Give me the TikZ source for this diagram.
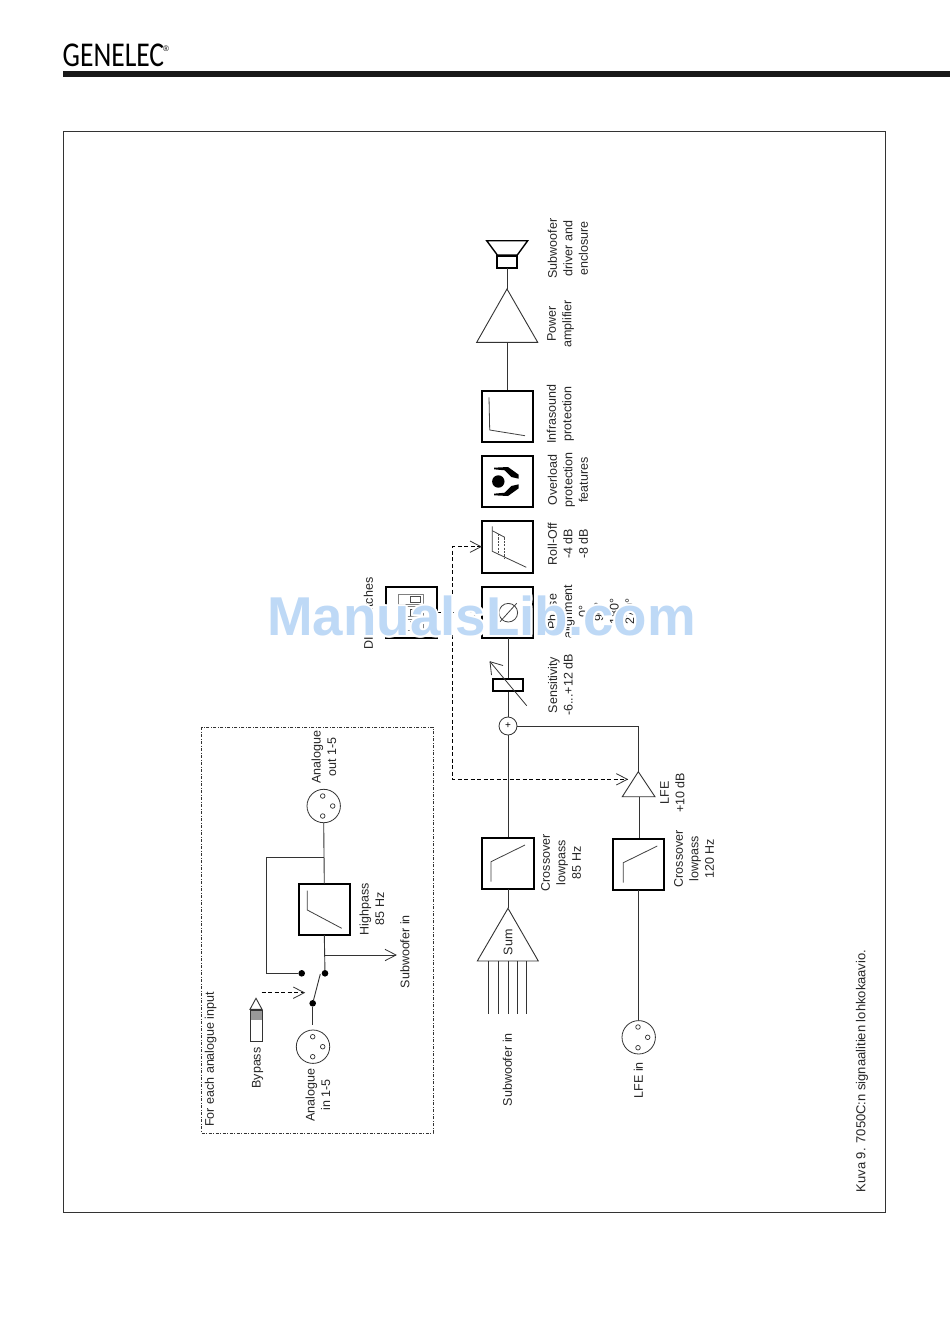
\documentclass[tikz,border=0pt]{standalone}
\usepackage{fontspec}
\setmainfont{Liberation Sans}
\newfontfamily\logofont{Carlito}
\definecolor{wmblue}{RGB}{190,217,246}
\tikzset{
 x=1pt,y=-1pt,
 thinline/.style={draw=black!80,line width=0.9pt},
 box/.style={draw=black,line width=2.2pt},
 curve/.style={draw=black!75,line width=0.8pt},
 lab/.style={rotate=90,align=center,inner sep=0pt,font=\fontsize{12.5}{15.5}\selectfont,text=black!85},
 pin/.style={draw=black!80,line width=0.7pt,fill=white},
 dot/.style={circle,fill=black,inner sep=0pt,minimum size=6.6pt},
 vee/.style={draw=black!80,line width=0.8pt},
 dashline/.style={draw=black,line width=0.9pt,dash pattern=on 4pt off 2.5pt},
 wm/.style={inner sep=0pt,font=\fontsize{54.7}{55}\selectfont\bfseries},
}
\begin{document}
\begin{tikzpicture}
\useasboundingbox (0,0) rectangle (950,1344);
\fill[white] (0,0) rectangle (950,1344);
% header
\node[anchor=west,inner sep=0pt,xscale=0.95,yscale=1.2,font=\logofont\fontsize{29}{29}\selectfont,text=black] (logo) at (62.5,55.5) {GENELEC};
\node[inner sep=0pt,font=\fontsize{8}{8}\selectfont] (reg) at (166,48.5) {®};
\fill[black!90] (63,71) rectangle (950,77);
\draw[black!80,line width=0.8pt] (63.5,131.5) rectangle (885.5,1212.5);
\node[lab,font=\fontsize{13}{15}\selectfont] (caption) at (862,1071) {Kuva 9. 7050C:n signaalitien lohkokaavio.};
% dashed group
\draw[black!80,line width=0.6pt,dash pattern=on 3pt off 1.5pt on 1pt off 1.5pt] (201.7,727) rectangle (433,1133);
\node[lab] (teach) at (210.7,1059.3) {For each analogue input};
% analogue section
\draw[box] (299,883.7) rectangle (350.3,935);
\coordinate (hpT) at (324.3,883.7);
\coordinate (hpB) at (324.3,935);
\draw[curve] (307.3,890.7) -- (307.3,910) -- (341.7,928.3);
\node[draw=black!80,line width=0.8pt,circle,minimum size=33.4pt,inner sep=0pt] (aout) at (323.7,806) {};
\node[draw=black!80,line width=0.8pt,circle,minimum size=33.4pt,inner sep=0pt] (ain) at (313,1046.7) {};
\foreach \p in {(322.7,796),(332.7,806),(322.7,816),(312.7,1036.7),(322.7,1046.7),(312.7,1056.7)} \draw[pin] \p circle (2.3);
\draw[thinline] (aout.south) -- (hpT);
\coordinate (br) at (324.3,857);
\node[dot] (d1) at (301.7,973.3) {};
\node[dot] (d2) at (325,973.3) {};
\node[dot] (d3) at (312.7,1003.3) {};
\draw[thinline] (br) -- (266.7,857) -- (266.7,973.3) -- (d1);
\draw[thinline] (hpB) -- (d2);
\coordinate (sw) at (324.3,955);
\coordinate (swT) at (396,955);
\draw[thinline] (sw) -- (swT);
\draw[vee] (385,949.3) -- (swT) -- (385,960.7);
\draw[thinline] (d3) -- (320.3,974);
\draw[thinline] (d3) -- (312.7,1025);
\coordinate (bys) at (261.7,992.7);
\coordinate (bye) at (304.3,992.7);
\draw[dashline] (bys) -- (bye);
\draw[vee] (293.3,987) -- (bye) -- (293.3,998.4);
% jack
\draw[thinline] (256,998.3) -- (262,1009.3) -- (250,1009.3) -- cycle;
\fill[black!40] (250,1010.7) rectangle (262,1020);
\draw[black!80,line width=0.7pt] (250,1010.7) rectangle (262,1041.7);
\node[lab] (tby) at (257.7,1068) {Bypass};
\node[lab] (tin) at (318,1095) {Analogue\\in 1-5};
\node[lab] (tout) at (324,757) {Analogue\\out 1-5};
\node[lab] (thp) at (372,909) {Highpass\\85 Hz};
\node[lab] (tsi) at (405,951.7) {Subwoofer in};
% top chain: speaker
\draw[black,line width=1.4pt,line join=miter] (486.7,240.7) -- (527.7,240.7) -- (517.3,255) -- (497.3,255) -- cycle;
\draw[box,line width=1.8pt] (497,255.7) rectangle (517.3,268);
\coordinate (spk) at (507,268);
\coordinate (ampT) at (507,289);
\coordinate (ampB) at (507,342.3);
\draw[thinline] (spk) -- (ampT);
\draw[thinline] (ampT) -- (537.7,342.3) -- (476.7,342.3) -- cycle;
\draw[thinline] (ampB) -- (507,391);
\draw[box] (481.7,391) rectangle (533.3,442.3);
\draw[curve] (489,397.3) -- (489.7,430) -- (525,435.7);
\draw[box] (481.7,456) rectangle (533.3,507.3);
\fill[black] (498.3,481.5) circle (6.2);
\fill[black] (494,467.7) -- (508,467) -- (518.7,474.7) -- (518.7,478.7) -- (511.3,477) -- (504.7,470.3) -- (494,469.3) -- cycle;
\fill[black] (494,495.3) -- (508,496) -- (518.7,488.3) -- (518.7,484.3) -- (511.3,486) -- (504.7,492.7) -- (494,493.7) -- cycle;
\draw[box] (481.7,521.3) rectangle (533.3,572.7);
\draw[curve] (492.3,526.3) -- (492.3,551.3) -- (526.3,567.3);
\draw[curve] (492.3,530.7) -- (504.7,537.3);
\draw[black!70,line width=0.8pt,dash pattern=on 2.2pt off 1.2pt] (504.7,537.3) -- (504.7,558);
\draw[black!70,line width=0.8pt,dash pattern=on 2.2pt off 1.2pt] (498.7,534) -- (498.7,555.3);
\draw[box] (481.7,586.7) rectangle (533.3,638.3);
\draw[curve] (508.3,612.7) circle (9.3);
\draw[curve] (500,621.7) -- (516.7,603.3);
\draw[box] (385.7,586.7) rectangle (437.3,638.3);
% DIP
\draw[black!50,line width=0.9pt] (398.3,594) rectangle (423.3,604);
\draw[black!70,line width=0.9pt] (410.7,596) rectangle (420,602);
\draw[black!50,line width=0.9pt] (398.3,606.7) rectangle (423.3,616.7);
\draw[black!70,line width=0.9pt] (410.7,609.3) rectangle (420,615);
\draw[black!50,line width=0.9pt] (398.3,619.3) rectangle (423.3,630);
\draw[black!70,line width=0.9pt] (410.7,621.7) rectangle (420,628.3);
% dashed control
\coordinate (dipo) at (437.3,612.7);
\coordinate (pha) at (481,612.7);
\coordinate (rol) at (481,546.7);
\coordinate (lfa) at (627.3,779.3);
\draw[dashline] (dipo) -- (pha);
\draw[dashline] (rol) -- (452.3,546.7) -- (452.3,779.3) -- (lfa);
\foreach \a in {(pha),(rol)} \draw[vee] \a ++(-11,-5.7) -- \a -- ++(-11,5.7);
\draw[vee] (616.3,773.6) -- (lfa) -- (616.3,785);
% sensitivity etc
\coordinate (phB) at (508,638.3);
\node[draw=black!80,line width=0.8pt,circle,minimum size=18pt,inner sep=0pt,font=\fontsize{10}{10}\selectfont] (sum) at (508,726) {+};
\draw[thinline] (phB) -- (sum.north);
\draw[box,fill=white] (492.7,679) rectangle (523.3,691);
\coordinate (sa) at (526.7,705.7);
\coordinate (sb) at (490,661.7);
\draw[vee] (sa) -- (sb);
\draw[vee] (490,661.7) -- (503,665.5);
\draw[vee] (490,661.7) -- (491.5,675);
\coordinate (lfT) at (638.3,771.7);
\draw[thinline] (sum.east) -- (638.3,726) -- (lfT);
\draw[thinline] (lfT) -- (655,796.7) -- (622.3,796.7) -- cycle;
\coordinate (cT) at (508,837.7);
\draw[thinline] (sum.south) -- (cT);
\draw[box] (482.3,837.7) rectangle (533.7,889.3);
\draw[curve] (525,845) -- (491,861.7) -- (491,881.7);
\coordinate (cB) at (508,889.3);
\coordinate (stT) at (508,908.3);
\draw[thinline] (cB) -- (stT);
\draw[thinline] (stT) -- (538.3,961) -- (477.3,961) -- cycle;
\node[lab] (tsum) at (508,942.3) {Sum};
\foreach \x in {488.3,498.3,508.3,517.3,526.7} \draw[thinline] (\x,961) -- (\x,1014);
\coordinate (lB) at (639,796.7);
\coordinate (x2T) at (639,838.7);
\draw[thinline] (lB) -- (x2T);
\draw[box] (613,838.7) rectangle (664.3,890);
\draw[curve] (657.3,846) -- (623.3,862.7) -- (623.3,882.7);
\node[draw=black!80,line width=0.8pt,circle,minimum size=33.4pt,inner sep=0pt] (lfein) at (638.7,1037.3) {};
\foreach \p in {(638,1027),(647.7,1037.3),(638,1047.7)} \draw[pin] \p circle (2.3);
\coordinate (x2B) at (638.7,890);
\draw[thinline] (x2B) -- (lfein.north);
% labels
\node[lab] (t1) at (568,248.7) {Subwoofer\\driver and\\enclosure};
\node[lab] (t2) at (560.5,324) {Power\\amplifier};
\node[lab] (t3) at (560.5,414) {Infrasound\\protection};
\node[lab] (t4) at (568,480) {Overload\\protection\\features};
\node[lab] (t5) at (568,544) {Roll-Off\\-4 dB\\-8 dB};
\node[lab] (t6) at (591,611.7) {Phase\\alignment\\0°\\90°\\180°\\270°};
\node[lab] (t7) at (560.5,685) {Sensitivity\\-6...+12 dB};
\node[lab] (t8) at (368.3,613.7) {DIP switches};
\node[lab] (t9) at (672.5,793) {LFE\\+10 dB};
\node[lab] (t10) at (561,862.7) {Crossover\\lowpass\\85 Hz};
\node[lab] (t11) at (694,858.7) {Crossover\\lowpass\\120 Hz};
\node[lab] (t12) at (507.3,1069.7) {Subwoofer in};
\node[lab] (t13) at (638.3,1080.3) {LFE in};
% watermark
\foreach \dx/\dy in {-2/0,2/0,0/-2,0/2,-1.5/-1.5,1.5/1.5,-1.5/1.5,1.5/-1.5}
  \node[wm,text=white] at (481.5+\dx,616+\dy) {ManualsLib.com};
\node[wm,text=wmblue] (wmk) at (481.5,616) {ManualsLib.com};
\end{tikzpicture}
\end{document}
